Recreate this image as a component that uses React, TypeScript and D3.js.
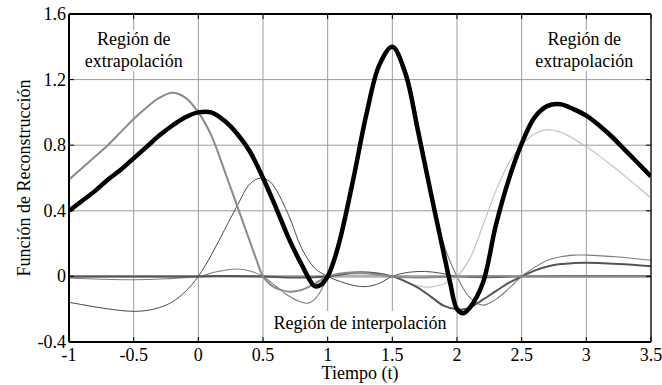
import React from "react";
import * as d3 from "d3";

type P = [number, number];

const xTicks = [-1, -0.5, 0, 0.5, 1, 1.5, 2, 2.5, 3, 3.5];
const xTickLabels = ["-1", "-0.5", "0", "0.5", "1", "1.5", "2", "2.5", "3", "3.5"];
const yTicks = [-0.4, 0, 0.4, 0.8, 1.2, 1.6];
const yTickLabels = ["-0.4", "0", "0.4", "0.8", "1.2", "1.6"];

// reconstruction (sum)
const sumCurve: P[] = [
  [-1.0, 0.40], [-0.9, 0.46], [-0.8, 0.52], [-0.7, 0.59], [-0.6, 0.65], [-0.5, 0.72],
  [-0.4, 0.79], [-0.3, 0.86], [-0.2, 0.92], [-0.1, 0.97], [0.0, 1.0], [0.1, 1.0],
  [0.2, 0.95], [0.3, 0.87], [0.4, 0.76], [0.5, 0.60], [0.6, 0.42], [0.7, 0.23],
  [0.8, 0.07], [0.9, -0.06], [0.95, -0.05], [1.0, 0.0], [1.05, 0.1], [1.1, 0.24],
  [1.2, 0.60], [1.3, 0.99], [1.4, 1.29], [1.5, 1.40], [1.6, 1.24], [1.7, 0.88],
  [1.8, 0.50], [1.9, 0.13], [1.95, -0.05], [2.0, -0.2], [2.05, -0.225], [2.1, -0.19],
  [2.2, -0.04], [2.3, 0.31], [2.4, 0.59], [2.5, 0.81], [2.6, 0.97], [2.7, 1.04],
  [2.8, 1.05], [2.9, 1.02], [3.0, 0.98], [3.1, 0.92], [3.2, 0.85], [3.3, 0.77],
  [3.4, 0.69], [3.5, 0.61],
];

// component at t = 0 (value 1)
const comp0: P[] = [
  [-1.0, 0.59], [-0.9, 0.66], [-0.8, 0.73], [-0.7, 0.80], [-0.6, 0.88], [-0.5, 0.96],
  [-0.4, 1.03], [-0.3, 1.09], [-0.2, 1.12], [-0.1, 1.09], [0.0, 1.0], [0.1, 0.86],
  [0.2, 0.65], [0.3, 0.43], [0.4, 0.21], [0.45, 0.10], [0.5, 0.0], [0.55, -0.045],
  [0.6, -0.072], [0.7, -0.093], [0.8, -0.082], [0.9, -0.045], [1.0, 0.0], [1.1, 0.018],
  [1.2, 0.024], [1.3, 0.02], [1.4, 0.01], [1.5, 0.0], [1.75, -0.006], [2.0, 0.0],
  [2.25, 0.002], [2.5, 0.0], [3.0, -0.001], [3.5, 0.0],
];

// component at t = 0.5 (value 0.6)
const comp05: P[] = [
  [-1.0, -0.158], [-0.9, -0.172], [-0.8, -0.186], [-0.7, -0.198], [-0.6, -0.208],
  [-0.5, -0.213], [-0.4, -0.208], [-0.3, -0.19], [-0.2, -0.155], [-0.1, -0.092],
  [0.0, 0.0], [0.1, 0.13], [0.2, 0.28], [0.3, 0.43], [0.4, 0.565], [0.48, 0.60],
  [0.55, 0.58], [0.6, 0.53], [0.7, 0.37], [0.8, 0.17], [0.9, 0.05], [1.0, 0.0],
  [1.1, -0.032], [1.2, -0.055], [1.3, -0.062], [1.4, -0.042], [1.5, 0.0], [1.6, 0.022],
  [1.75, 0.03], [1.9, 0.016], [2.0, 0.0], [2.25, -0.008], [2.5, 0.0], [3.0, 0.004],
  [3.5, 0.004],
];

// component at t = 1 (value 0)
const comp1: P[] = [[-1.0, 0.0], [1.0, 0.0], [3.5, 0.0]];

// component at t = 1.5 (value 1.4)
const comp15: P[] = [
  [-1.0, -0.01], [-0.75, -0.017], [-0.5, -0.02], [-0.25, -0.014], [0.0, 0.0],
  [0.15, 0.03], [0.3, 0.045], [0.4, 0.033], [0.5, 0.0], [0.6, -0.06], [0.7, -0.12],
  [0.8, -0.158], [0.85, -0.163], [0.9, -0.14], [0.95, -0.085], [1.0, 0.0], [1.1, 0.26],
  [1.2, 0.62], [1.3, 0.99], [1.4, 1.29], [1.5, 1.40], [1.6, 1.27], [1.7, 0.93],
  [1.8, 0.53], [1.9, 0.19], [2.0, 0.0], [2.1, -0.13], [2.2, -0.175], [2.3, -0.14],
  [2.4, -0.075], [2.5, 0.0], [2.6, 0.055], [2.7, 0.098], [2.8, 0.12], [2.9, 0.13],
  [3.0, 0.13], [3.25, 0.118], [3.5, 0.098],
];

// component at t = 2 (value -0.2)
const comp2: P[] = [
  [-1.0, 0.0], [0.0, 0.0], [0.25, 0.003], [0.5, 0.0], [0.75, -0.007], [1.0, 0.0],
  [1.25, 0.025], [1.5, 0.0], [1.6, -0.03], [1.7, -0.07], [1.8, -0.125], [1.9, -0.18],
  [2.0, -0.2], [2.05, -0.2], [2.1, -0.19], [2.2, -0.142], [2.3, -0.09], [2.4, -0.04],
  [2.5, 0.0], [2.6, 0.035], [2.7, 0.06], [2.8, 0.075], [2.9, 0.081], [3.0, 0.083],
  [3.25, 0.075], [3.5, 0.062],
];

// component at t = 2.5 (value 0.8)
const comp25: P[] = [
  [-1.0, 0.0], [0.5, 0.0], [0.75, -0.003], [1.0, 0.0], [1.25, 0.015], [1.5, 0.0],
  [1.6, -0.032], [1.7, -0.058], [1.8, -0.065], [1.9, -0.045], [2.0, 0.0], [2.1, 0.11],
  [2.2, 0.31], [2.3, 0.52], [2.4, 0.69], [2.5, 0.80], [2.6, 0.87], [2.7, 0.895],
  [2.8, 0.88], [2.9, 0.84], [3.0, 0.79], [3.1, 0.735], [3.2, 0.675], [3.3, 0.61],
  [3.4, 0.545], [3.5, 0.478],
];

const W = 662;
const H = 385;
const L = 69, R = 651, T = 14, B = 342;
const FONT = "Liberation Serif, DejaVu Serif, serif";
const txt: React.CSSProperties = { fontFamily: FONT, fontSize: "18px" };

export default function App() {
  const x = d3.scaleLinear().domain([-1, 3.5]).range([L, R]);
  const y = d3.scaleLinear().domain([-0.4, 1.6]).range([B, T]);
  const line = d3
    .line<P>()
    .x((d) => x(d[0]))
    .y((d) => y(d[1]))
    .curve(d3.curveCatmullRom.alpha(0.5));

  const series: { d: P[]; color: string; w: number }[] = [
    { d: comp1, color: "#b0b0b0", w: 2.6 },
    { d: comp25, color: "#c4c4c4", w: 1.2 },
    { d: comp15, color: "#7c7c7c", w: 1.1 },
    { d: comp2, color: "#555555", w: 2 },
    { d: comp05, color: "#4a4a4a", w: 1 },
    { d: comp0, color: "#8a8a8a", w: 2 },
    { d: sumCurve, color: "#000000", w: 4.5 },
  ];

  return (
    <svg
      width={W}
      height={H}
      style={{ position: "absolute", left: 0, top: 0, background: "#fff", fontFamily: FONT }}
    >
      <rect x={0} y={0} width={W} height={H} fill="#fff" />
      {/* grid */}
      {xTicks.map((t) => (
        <line key={"gx" + t} x1={x(t)} x2={x(t)} y1={T} y2={B} stroke="#9c9c9c" strokeWidth={1} />
      ))}
      {yTicks.map((t) => (
        <line key={"gy" + t} x1={L} x2={R} y1={y(t)} y2={y(t)} stroke="#9c9c9c" strokeWidth={1} />
      ))}

      {/* annotation backgrounds */}
      <rect x={x(-0.5) - 52} y={30} width={104} height={41} fill="#fff" />
      <rect x={x(3) - 54} y={30} width={104} height={41} fill="#fff" />
      <rect x={x(1.25) - 92} y={311} width={184} height={25} fill="#fff" />

      <defs>
        <clipPath id="plotclip">
          <rect x={L} y={T} width={R - L} height={B - T} />
        </clipPath>
      </defs>
      {/* curves */}
      <g clipPath="url(#plotclip)">
        {series.map((s, i) => (
          <path key={i} d={line(s.d) || ""} fill="none" stroke={s.color} strokeWidth={s.w} strokeLinejoin="round" />
        ))}
      </g>

      {/* box */}
      <line x1={L} x2={R} y1={T} y2={T} stroke="#000" strokeWidth={2} />
      <line x1={L} x2={R} y1={B} y2={B} stroke="#000" strokeWidth={2} />
      <line x1={L} x2={L} y1={T} y2={B} stroke="#000" strokeWidth={2} />
      <line x1={R} x2={R} y1={T} y2={B} stroke="#000" strokeWidth={1.2} />
      {/* ticks */}
      {xTicks.map((t) => (
        <g key={"tx" + t}>
          <line x1={x(t)} x2={x(t)} y1={B} y2={B - 5} stroke="#000" strokeWidth={1} />
          <line x1={x(t)} x2={x(t)} y1={T} y2={T + 5} stroke="#000" strokeWidth={1} />
        </g>
      ))}
      {yTicks.map((t) => (
        <g key={"ty" + t}>
          <line x1={L} x2={L + 5} y1={y(t)} y2={y(t)} stroke="#000" strokeWidth={1} />
          <line x1={R} x2={R - 5} y1={y(t)} y2={y(t)} stroke="#000" strokeWidth={1} />
        </g>
      ))}

      {/* tick labels */}
      {xTicks.map((t, i) => (
        <text key={"lx" + t} x={x(t)} y={361} textAnchor="middle" style={txt} fill="#000">
          {xTickLabels[i]}
        </text>
      ))}
      {yTicks.map((t, i) => (
        <text key={"ly" + t} x={66} y={y(t) + 6} textAnchor="end" style={txt} fill="#000">
          {yTickLabels[i]}
        </text>
      ))}

      {/* axis titles */}
      <text x={(L + R) / 2} y={379} textAnchor="middle" style={txt} fill="#000">
        Tiempo (t)
      </text>
      <text
        transform={`translate(30, ${(T + B) / 2}) rotate(-90)`}
        textAnchor="middle"
        style={txt}
        fill="#000"
      >
        Función de Reconstrucción
      </text>

      {/* annotations */}
      <text x={x(-0.5)} y={45} textAnchor="middle" style={txt} fill="#000">Región de</text>
      <text x={x(-0.5)} y={66.5} textAnchor="middle" style={txt} fill="#000">extrapolación</text>
      <text x={x(3) - 2} y={45} textAnchor="middle" style={txt} fill="#000">Región de</text>
      <text x={x(3) - 2} y={66.5} textAnchor="middle" style={txt} fill="#000">extrapolación</text>
      <text x={x(1.25)} y={329} textAnchor="middle" style={txt} fill="#000">Región de interpolación</text>
    </svg>
  );
}
